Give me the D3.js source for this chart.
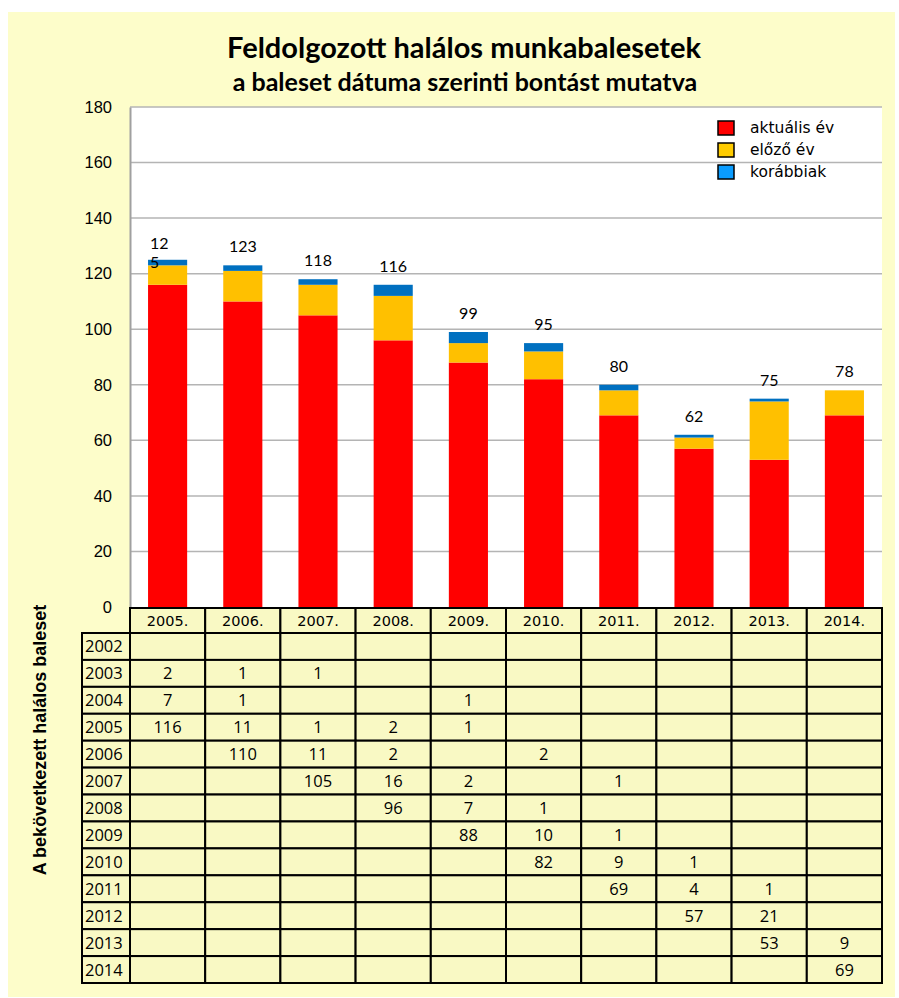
<!DOCTYPE html>
<html>
<head>
<meta charset="utf-8">
<script src="https://cdn.jsdelivr.net/npm/d3@7"></script>
<style>
  body { margin: 0; background: #fff; }
</style>
</head>
<body>
<div id="drawing_region"></div>
<script>
// Reporting years (columns) and accident years (table rows)
const years = ['2005.', '2006.', '2007.', '2008.', '2009.', '2010.', '2011.', '2012.', '2013.', '2014.'];
const rowYears = ['2002', '2003', '2004', '2005', '2006', '2007', '2008', '2009', '2010', '2011', '2012', '2013', '2014'];

// table values: one row per accident year, one entry per reporting year (null = empty)
const table = [
    [null, null, null, null, null, null, null, null, null, null],
    [2, 1, 1, null, null, null, null, null, null, null],
    [7, 1, null, null, 1, null, null, null, null, null],
    [116, 11, 1, 2, 1, null, null, null, null, null],
    [null, 110, 11, 2, null, 2, null, null, null, null],
    [null, null, 105, 16, 2, null, 1, null, null, null],
    [null, null, null, 96, 7, 1, null, null, null, null],
    [null, null, null, null, 88, 10, 1, null, null, null],
    [null, null, null, null, null, 82, 9, 1, null, null],
    [null, null, null, null, null, null, 69, 4, 1, null],
    [null, null, null, null, null, null, null, 57, 21, null],
    [null, null, null, null, null, null, null, null, 53, 9],
    [null, null, null, null, null, null, null, null, null, 69]
];

// stacked series
const current = [116, 110, 105, 96, 88, 82, 69, 57, 53, 69];
const previous = [7, 11, 11, 16, 7, 10, 9, 4, 21, 9];
const earlier = [2, 2, 2, 4, 4, 3, 2, 1, 1, 0];
const totals = [125, 123, 118, 116, 99, 95, 80, 62, 75, 78];

const seriesNames = ['aktuális év', 'előző év', 'korábbiak'];
const barColors = ['#ff0000', '#ffc000', '#0070c0'];
const legendColors = ['#ff0000', '#ffcc00', '#0a9cff'];
const yTicks = [0, 20, 40, 60, 80, 100, 120, 140, 160, 180];

const W = 899, H = 998;
const plot = { left: 130, right: 882, top: 107, bottom: 607 };

const svg = d3.select('#drawing_region')
    .append('svg')
    .attr('width', W)
    .attr('height', H);

// yellow page background
svg.append('rect')
    .attr('x', 8).attr('y', 12)
    .attr('width', 887).attr('height', 985)
    .attr('fill', '#fdfdca');

// titles
svg.append('text')
    .attr('x', 464).attr('y', 58)
    .attr('text-anchor', 'middle')
    .attr('font-family', 'Lato, sans-serif')
    .attr('font-weight', 'bold')
    .attr('font-size', 29)
    .text('Feldolgozott halálos munkabalesetek');

svg.append('text')
    .attr('x', 465).attr('y', 91)
    .attr('text-anchor', 'middle')
    .attr('font-family', 'Lato, sans-serif')
    .attr('font-weight', 'bold')
    .attr('font-size', 25)
    .text('a baleset dátuma szerinti bontást mutatva');

// scales
const xscale = d3.scaleBand()
    .domain(years)
    .range([plot.left, plot.right]);

const yscale = d3.scaleLinear()
    .domain([0, 180])
    .range([plot.bottom, plot.top]);

// plot area
svg.append('rect')
    .attr('x', plot.left).attr('y', plot.top)
    .attr('width', plot.right - plot.left)
    .attr('height', plot.bottom - plot.top)
    .attr('fill', '#ffffff');

svg.append('g')
    .selectAll('line')
    .data(yTicks.filter(d => d > 0))
    .join('line')
    .attr('x1', plot.left).attr('x2', plot.right)
    .attr('y1', d => yscale(d)).attr('y2', d => yscale(d))
    .attr('stroke', '#b4b4b4')
    .attr('stroke-width', 1.5);

const yaxis = svg.append('g')
    .attr('transform', `translate(${plot.left},0)`)
    .call(d3.axisLeft(yscale).tickValues(yTicks).tickSize(0).tickPadding(18));
yaxis.select('.domain').attr('stroke', '#a0a0a0').attr('stroke-width', 2);
yaxis.selectAll('text')
    .attr('font-family', 'Liberation Sans, Arial, sans-serif')
    .attr('font-size', 16.5)
    .attr('fill', '#000');

// stacked bars
const rows = years.map((y, i) => ({ year: y, current: current[i], previous: previous[i], earlier: earlier[i] }));
const stack = d3.stack().keys(['current', 'previous', 'earlier'])(rows);
const barW = xscale.bandwidth() * 0.52;

svg.append('g')
    .selectAll('g')
    .data(stack)
    .join('g')
    .attr('fill', (d, i) => barColors[i])
    .selectAll('rect')
    .data(d => d)
    .join('rect')
    .attr('x', d => xscale(d.data.year) + (xscale.bandwidth() - barW) / 2)
    .attr('y', d => yscale(d[1]))
    .attr('width', barW)
    .attr('height', d => yscale(d[0]) - yscale(d[1]));

// total labels
const labels = svg.append('g')
    .attr('font-family', 'Lato, sans-serif')
    .attr('font-size', 16)
    .attr('fill', '#000');

totals.forEach((t, i) => {
    const cx = xscale(years[i]) + xscale.bandwidth() / 2;
    const ty = yscale(t) - 13;
    if (i === 0) {
        // the first label wraps onto two lines in the original
        const s = String(t);
        const left = cx - barW / 2 + 2;
        const txt = labels.append('text').attr('x', left).attr('y', ty + 2);
        txt.append('tspan').attr('x', left).text(s.slice(0, 2));
        txt.append('tspan').attr('x', left).attr('dy', 19).text(s.slice(2));
    } else {
        labels.append('text')
            .attr('x', cx).attr('y', ty)
            .attr('text-anchor', 'middle')
            .text(t);
    }
});

// legend
const legend = svg.append('g')
    .attr('transform', 'translate(718,121)');
seriesNames.forEach((name, i) => {
    const g = legend.append('g').attr('transform', `translate(0,${i * 22})`);
    g.append('rect')
        .attr('width', 16).attr('height', 14)
        .attr('fill', legendColors[i])
        .attr('stroke', '#000')
        .attr('stroke-width', 1.5);
    g.append('text')
        .attr('x', 32).attr('y', 12)
        .attr('font-family', 'DejaVu Sans, sans-serif')
        .attr('font-size', 15.5)
        .text(name);
});

// data table
const tableTop = 608, headH = 25;
const rowScale = d3.scaleBand()
    .domain(rowYears)
    .range([tableTop + headH, 983]);
const colLeft = 82;

const tbl = svg.append('g');
const cellFill = '#f9f9c4';

// header cells
tbl.selectAll('.head')
    .data(years)
    .join('rect')
    .attr('x', d => xscale(d))
    .attr('y', tableTop)
    .attr('width', xscale.bandwidth())
    .attr('height', headH)
    .attr('fill', cellFill)
    .attr('stroke', '#000')
    .attr('stroke-width', 2);

tbl.selectAll('.headtext')
    .data(years)
    .join('text')
    .attr('x', d => xscale(d) + xscale.bandwidth() / 2)
    .attr('y', tableTop + headH / 2 + 5)
    .attr('text-anchor', 'middle')
    .attr('font-family', 'DejaVu Sans, sans-serif')
    .attr('font-size', 14.5)
    .text(d => d);

// row header cells
tbl.selectAll('.rowhead')
    .data(rowYears)
    .join('rect')
    .attr('x', colLeft)
    .attr('y', d => rowScale(d))
    .attr('width', plot.left - colLeft)
    .attr('height', rowScale.bandwidth())
    .attr('fill', cellFill)
    .attr('stroke', '#000')
    .attr('stroke-width', 2);

tbl.selectAll('.rowheadtext')
    .data(rowYears)
    .join('text')
    .attr('x', colLeft + 3)
    .attr('y', d => rowScale(d) + rowScale.bandwidth() / 2 + 6)
    .attr('font-family', 'Open Sans, sans-serif')
    .attr('font-size', 16.5)
    .text(d => d);

// body cells
const cells = [];
table.forEach((row, r) => row.forEach((v, c) => cells.push({ r: rowYears[r], c: years[c], v })));

tbl.selectAll('.cell')
    .data(cells)
    .join('rect')
    .attr('x', d => xscale(d.c))
    .attr('y', d => rowScale(d.r))
    .attr('width', xscale.bandwidth())
    .attr('height', rowScale.bandwidth())
    .attr('fill', cellFill)
    .attr('stroke', '#000')
    .attr('stroke-width', 2);

tbl.selectAll('.celltext')
    .data(cells.filter(d => d.v !== null))
    .join('text')
    .attr('x', d => xscale(d.c) + xscale.bandwidth() / 2)
    .attr('y', d => rowScale(d.r) + rowScale.bandwidth() / 2 + 6)
    .attr('text-anchor', 'middle')
    .attr('font-family', 'Open Sans, sans-serif')
    .attr('font-size', 16.5)
    .text(d => d.v);

// vertical row-axis title
svg.append('text')
    .attr('transform', 'translate(46,740) rotate(-90)')
    .attr('text-anchor', 'middle')
    .attr('font-family', 'Liberation Sans, Arial, sans-serif')
    .attr('font-weight', 'bold')
    .attr('font-size', 18)
    .text('A bekövetkezett halálos baleset');
</script>
</body>
</html>
